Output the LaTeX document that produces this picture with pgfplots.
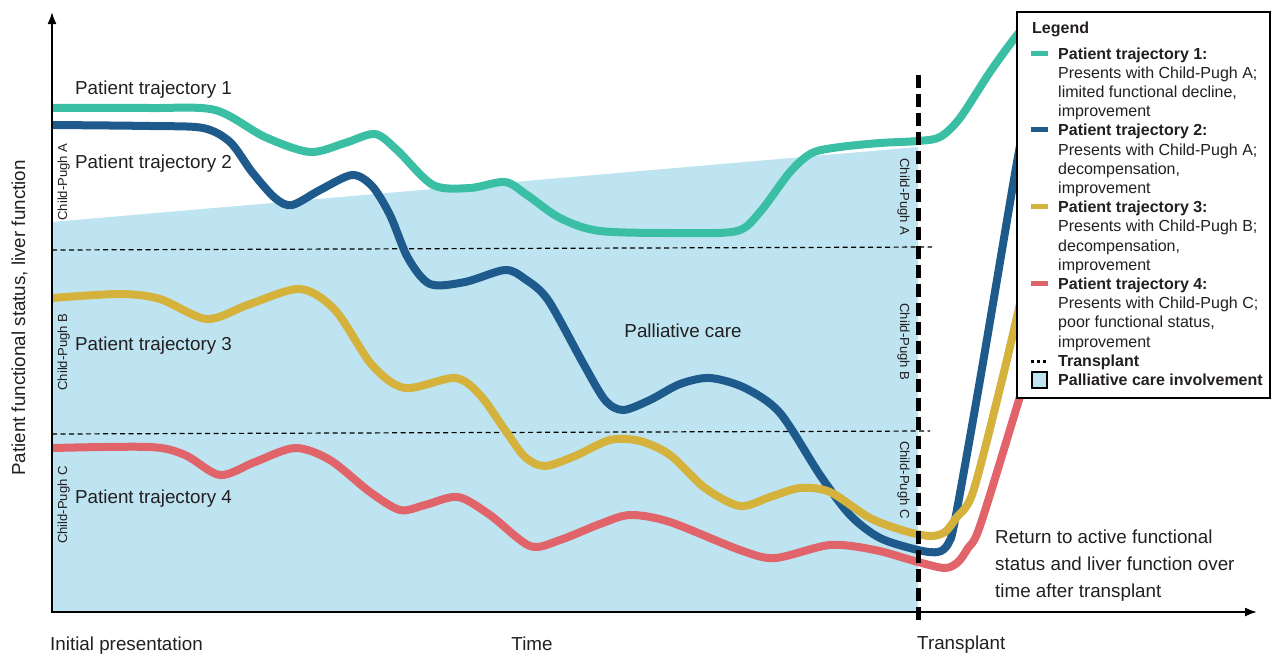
\documentclass[border=0pt]{standalone}
\usepackage{pgfplots}
\pgfplotsset{compat=1.18}
\usepackage{fontspec}
\setmainfont{Liberation Sans}
\usetikzlibrary{arrows.meta}
\definecolor{tealc}{RGB}{58,190,164}
\definecolor{bluec}{RGB}{30,90,140}
\definecolor{yellowc}{RGB}{212,178,60}
\definecolor{redc}{RGB}{225,100,106}
\definecolor{pallc}{RGB}{189,228,240}
\definecolor{txt}{RGB}{35,31,32}
\begin{document}
\begin{tikzpicture}
\begin{axis}[width=1271pt,height=654pt,scale only axis,
  xmin=0,xmax=1271,ymin=0,ymax=654,y dir=reverse,hide axis,clip=false]
% palliative care area
\addplot[fill=pallc,draw=none] coordinates {(52,222) (918,147) (918,612) (52,612) (52,222)};
% Child-Pugh boundaries
\addplot[black,line width=1.2pt,dash pattern=on 5pt off 3.5pt] coordinates {(52,250) (932,247)};
\addplot[black,line width=1.2pt,dash pattern=on 5pt off 3.5pt] coordinates {(52,434) (930,431)};
% trajectories
\addplot[tealc,line width=8pt,smooth,tension=0.5] coordinates {
(52,108) (150,108) (215,110) (265,137) (310,152) (345,143) (375,134) (397,150) (433,185) (470,188) (505,182) (527,195) (560,218) (600,231) (680,233) (737,231) (760,212) (790,172) (812,153) (840,147) (880,143) (918,141) (940,137) (960,118) (990,72) (1017,35) (1030,22)};
\addplot[bluec,line width=8pt,smooth,tension=0.5] coordinates {
(52,125) (150,126) (203,128) (230,142) (252,172) (275,198) (292,205) (320,190) (352,175) (372,186) (390,215) (408,258) (430,284) (465,282) (505,270) (525,279) (548,300) (583,363) (605,400) (623,410) (650,400) (680,384) (710,378) (745,388) (780,413) (820,475) (850,515) (880,538) (918,550) (938,552) (948,544) (955,520) (980,380) (1013,185) (1022,135)};
\addplot[yellowc,line width=8pt,smooth,tension=0.5] coordinates {
(52,298) (120,294) (160,299) (207,319) (250,304) (300,289) (335,310) (372,365) (405,388) (455,378) (480,395) (505,430) (525,457) (545,466) (575,456) (610,440) (640,441) (670,455) (705,488) (740,506) (770,497) (800,488) (830,492) (870,518) (905,531) (930,536) (945,532) (956,518) (973,492) (1002,380) (1022,295)};
\addplot[redc,line width=8pt,smooth,tension=0.5] coordinates {
(52,448) (150,447) (185,455) (220,475) (255,462) (295,448) (330,460) (370,492) (400,510) (425,505) (458,497) (490,515) (530,546) (560,540) (600,524) (630,515) (670,522) (740,550) (775,558) (830,545) (875,550) (918,562) (945,568) (958,562) (968,548) (980,526) (1018,403) (1026,375)};
% transplant line
\addplot[black,line width=5pt,dash pattern=on 13pt off 6pt] coordinates {(918,75) (918,624)};
% axes
\draw[black,line width=1.8pt,-{Latex[length=12pt,width=9pt]}] (axis cs:52,612) -- (axis cs:52,12);
\draw[black,line width=1.8pt,-{Latex[length=12pt,width=9pt]}] (axis cs:51,612) -- (axis cs:1257,612);
% labels
\begin{scope}[every node/.style={text=txt,inner sep=0pt,font=\fontsize{18.8}{22}\selectfont}]
\node[anchor=base west] at (axis cs:75,94) {Patient trajectory 1};
\node[anchor=base west] at (axis cs:75,168) {Patient trajectory 2};
\node[anchor=base west] at (axis cs:75,350) {Patient trajectory 3};
\node[anchor=base west] at (axis cs:75,503) {Patient trajectory 4};
\node[anchor=base] at (axis cs:683,337) {Palliative care};
\node[anchor=base west] at (axis cs:995,543) {Return to active functional};
\node[anchor=base west] at (axis cs:995,570) {status and liver function over};
\node[anchor=base west] at (axis cs:995,597) {time after transplant};
\node[anchor=base west] at (axis cs:50,650) {Initial presentation};
\node[anchor=base] at (axis cs:532,650) {Time};
\node[anchor=base west] at (axis cs:917,649) {Transplant};
\node[anchor=base,rotate=90] at (axis cs:25,318) {Patient functional status, liver function};
\end{scope}
\begin{scope}[every node/.style={text=txt,inner sep=0pt,font=\fontsize{13.1}{15}\selectfont}]
\node[anchor=base,rotate=90] at (axis cs:67,182) {Child-Pugh A};
\node[anchor=base,rotate=90] at (axis cs:67,352) {Child-Pugh B};
\node[anchor=base,rotate=90] at (axis cs:67,505) {Child-Pugh C};
\node[anchor=base,rotate=-90] at (axis cs:900,197) {Child-Pugh A};
\node[anchor=base,rotate=-90] at (axis cs:900,342) {Child-Pugh B};
\node[anchor=base,rotate=-90] at (axis cs:900,480) {Child-Pugh C};
\end{scope}
% legend
\draw[black,line width=1.5pt,fill=white] (axis cs:1017,12) rectangle (axis cs:1270,398);
\begin{scope}[every node/.style={text=txt,inner sep=0pt,anchor=base west,font=\fontsize{16}{19}\selectfont}]
\node[font=\fontsize{16}{19}\selectfont\bfseries] at (axis cs:1032,33) {Legend};
\node[font=\fontsize{16}{19}\selectfont\bfseries] at (axis cs:1058,59) {Patient trajectory 1:};
\node at (axis cs:1058,78.2) {Presents with Child-Pugh A;};
\node at (axis cs:1058,97.4) {limited functional decline,};
\node at (axis cs:1058,116.6) {improvement};
\node[font=\fontsize{16}{19}\selectfont\bfseries] at (axis cs:1058,135.8) {Patient trajectory 2:};
\node at (axis cs:1058,155) {Presents with Child-Pugh A;};
\node at (axis cs:1058,174.2) {decompensation,};
\node at (axis cs:1058,193.4) {improvement};
\node[font=\fontsize{16}{19}\selectfont\bfseries] at (axis cs:1058,212.6) {Patient trajectory 3:};
\node at (axis cs:1058,231.8) {Presents with Child-Pugh B;};
\node at (axis cs:1058,251) {decompensation,};
\node at (axis cs:1058,270.2) {improvement};
\node[font=\fontsize{16}{19}\selectfont\bfseries] at (axis cs:1058,289.4) {Patient trajectory 4:};
\node at (axis cs:1058,308.6) {Presents with Child-Pugh C;};
\node at (axis cs:1058,327.8) {poor functional status,};
\node at (axis cs:1058,347) {improvement};
\node[font=\fontsize{16}{19}\selectfont\bfseries] at (axis cs:1058,366.2) {Transplant};
\node[font=\fontsize{16}{19}\selectfont\bfseries] at (axis cs:1058,385.4) {Palliative care involvement};
\end{scope}
\draw[tealc,line width=5pt] (axis cs:1031,53) -- (axis cs:1048,53);
\draw[bluec,line width=5pt] (axis cs:1031,129.8) -- (axis cs:1048,129.8);
\draw[yellowc,line width=5pt] (axis cs:1031,206.6) -- (axis cs:1048,206.6);
\draw[redc,line width=5pt] (axis cs:1031,283.4) -- (axis cs:1048,283.4);
\draw[black,line width=3pt,dash pattern=on 3pt off 3pt] (axis cs:1031,361) -- (axis cs:1049,361);
\draw[black,line width=1.5pt,fill=pallc] (axis cs:1032,372) rectangle (axis cs:1047,388);
\end{axis}
\pgfresetboundingbox
\path (0,0) rectangle (1271pt,654pt);
\end{tikzpicture}
\end{document}
